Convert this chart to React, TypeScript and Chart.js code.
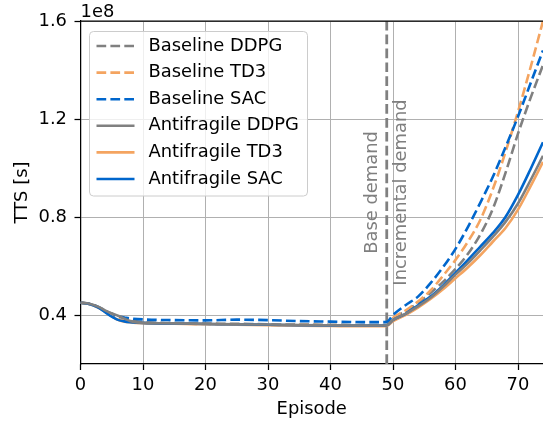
import React, { useEffect, useRef } from "react";
import { Chart, registerables } from "chart.js";

Chart.register(...registerables);

// ---- data (TTS in units of 1e8 s) ----
const episodes = [0, 1, 2, 3, 4, 5, 6, 7, 8, 10, 15, 20, 25, 30, 35, 40, 45, 48, 49, 50, 52, 54, 56, 58, 60, 62, 64, 66, 68, 70, 72, 74];

const baselineDDPG = [0.45, 0.448, 0.442, 0.431, 0.417, 0.405, 0.396, 0.388, 0.378, 0.371, 0.367, 0.365, 0.364, 0.362, 0.361, 0.36, 0.359, 0.359, 0.36, 0.385, 0.415, 0.45, 0.49, 0.535, 0.588, 0.65, 0.73, 0.835, 0.98, 1.14, 1.285, 1.42];
const baselineTD3 = [0.45, 0.447, 0.44, 0.429, 0.413, 0.398, 0.385, 0.376, 0.371, 0.368, 0.365, 0.363, 0.362, 0.36, 0.359, 0.358, 0.357, 0.357, 0.358, 0.388, 0.418, 0.455, 0.5, 0.56, 0.625, 0.7, 0.79, 0.915, 1.065, 1.23, 1.41, 1.6];
const baselineSAC = [0.45, 0.447, 0.441, 0.43, 0.415, 0.402, 0.394, 0.39, 0.386, 0.382, 0.379, 0.378, 0.381, 0.379, 0.375, 0.373, 0.371, 0.371, 0.372, 0.4, 0.44, 0.475, 0.53, 0.595, 0.67, 0.76, 0.86, 0.965, 1.085, 1.21, 1.345, 1.48];
const antifragileDDPG = [0.45, 0.448, 0.442, 0.432, 0.418, 0.407, 0.397, 0.385, 0.375, 0.368, 0.366, 0.364, 0.362, 0.361, 0.359, 0.358, 0.357, 0.357, 0.358, 0.38, 0.405, 0.435, 0.47, 0.515, 0.565, 0.612, 0.665, 0.72, 0.78, 0.855, 0.95, 1.05];
const antifragileTD3 = [0.45, 0.447, 0.44, 0.428, 0.412, 0.395, 0.38, 0.373, 0.37, 0.367, 0.364, 0.362, 0.36, 0.358, 0.356, 0.355, 0.354, 0.354, 0.355, 0.375, 0.4, 0.43, 0.465, 0.505, 0.55, 0.595, 0.645, 0.7, 0.755, 0.83, 0.925, 1.025];
const antifragileSAC = [0.45, 0.447, 0.44, 0.428, 0.41, 0.393, 0.38, 0.374, 0.371, 0.368, 0.365, 0.363, 0.362, 0.36, 0.358, 0.357, 0.357, 0.357, 0.358, 0.38, 0.405, 0.44, 0.475, 0.52, 0.572, 0.625, 0.68, 0.735, 0.8, 0.89, 0.995, 1.105];

const xTicks = [0, 10, 20, 30, 40, 50, 60, 70];
const yTicks = [0.4, 0.8, 1.2, 1.6];
const demandChangeEpisode = 49;
const yMultiplierLabel = "1e8";

const FONT = "'DejaVu Sans', sans-serif";
const FS = 17.9;
const GRAY = "#808080";
const ORANGE = "#f4a460";
const BLUE = "#0066cc";
const DASH = [9.7, 4.2];
const LW = 2.6;

const series = [
  { label: "Baseline DDPG", data: baselineDDPG, color: GRAY, dashed: true, order: 5 },
  { label: "Baseline TD3", data: baselineTD3, color: ORANGE, dashed: true, order: 4 },
  { label: "Baseline SAC", data: baselineSAC, color: BLUE, dashed: true, order: 3 },
  { label: "Antifragile DDPG", data: antifragileDDPG, color: GRAY, dashed: false, order: 0 },
  { label: "Antifragile TD3", data: antifragileTD3, color: ORANGE, dashed: false, order: 2 },
  { label: "Antifragile SAC", data: antifragileSAC, color: BLUE, dashed: false, order: 1 },
];

const decorPlugin = {
  id: "decor",
  beforeDatasetsDraw(chart: any) {
    const { ctx, chartArea: a, scales } = chart;
    const x = scales.x.getPixelForValue(demandChangeEpisode);
    const yc = scales.y.getPixelForValue(0.9);
    ctx.save();
    ctx.beginPath();
    ctx.rect(a.left, a.top, a.right - a.left, a.bottom - a.top);
    ctx.clip();
    ctx.strokeStyle = GRAY;
    ctx.lineWidth = 2.8;
    ctx.setLineDash(DASH);
    ctx.beginPath();
    ctx.moveTo(x, a.bottom);
    ctx.lineTo(x, a.top);
    ctx.stroke();
    ctx.setLineDash([]);
    ctx.fillStyle = "#7f7f7f";
    ctx.font = `${FS}px ${FONT}`;
    ctx.textAlign = "center";
    ctx.textBaseline = "middle";
    const drawV = (text: string, px: number) => {
      ctx.save();
      ctx.translate(px, yc);
      ctx.rotate(-Math.PI / 2);
      ctx.fillText(text, 0, 0);
      ctx.restore();
    };
    drawV("Base demand", x - 14.6);
    drawV("Incremental demand", x + 14.4);
    ctx.restore();
  },
  afterDraw(chart: any) {
    const { ctx, chartArea: a } = chart;
    ctx.save();
    // top spine
    ctx.strokeStyle = "#000";
    ctx.lineWidth = 1.25;
    ctx.beginPath();
    ctx.moveTo(a.left, a.top);
    ctx.lineTo(a.right, a.top);
    ctx.stroke();
    // multiplier text
    ctx.fillStyle = "#000";
    ctx.font = `${FS}px ${FONT}`;
    ctx.textAlign = "left";
    ctx.textBaseline = "alphabetic";
    ctx.fillText(yMultiplierLabel, a.left, 17);
    // legend
    const lx = a.left + 9, ly = a.top + 10.5, lw = 218, lh = 164.5, r = 4;
    ctx.beginPath();
    ctx.moveTo(lx + r, ly);
    ctx.lineTo(lx + lw - r, ly);
    ctx.quadraticCurveTo(lx + lw, ly, lx + lw, ly + r);
    ctx.lineTo(lx + lw, ly + lh - r);
    ctx.quadraticCurveTo(lx + lw, ly + lh, lx + lw - r, ly + lh);
    ctx.lineTo(lx + r, ly + lh);
    ctx.quadraticCurveTo(lx, ly + lh, lx, ly + lh - r);
    ctx.lineTo(lx, ly + r);
    ctx.quadraticCurveTo(lx, ly, lx + r, ly);
    ctx.closePath();
    ctx.fillStyle = "rgba(255,255,255,0.8)";
    ctx.fill();
    ctx.strokeStyle = "#cccccc";
    ctx.lineWidth = 1;
    ctx.stroke();
    ctx.textBaseline = "middle";
    series.forEach((s, i) => {
      const cy = ly + 14.5 + i * 26.6;
      ctx.strokeStyle = s.color;
      ctx.lineWidth = LW;
      ctx.setLineDash(s.dashed ? DASH : []);
      ctx.beginPath();
      ctx.moveTo(lx + 7, cy);
      ctx.lineTo(lx + 45, cy);
      ctx.stroke();
      ctx.setLineDash([]);
      ctx.fillStyle = "#000";
      ctx.fillText(s.label, lx + 59, cy);
    });
    ctx.restore();
  },
};

export default function App() {
  const canvasRef = useRef<HTMLCanvasElement | null>(null);

  useEffect(() => {
    const canvas = canvasRef.current;
    if (!canvas) return;
    const font = { family: FONT, size: FS };
    const chart = new Chart(canvas, {
      type: "line",
      data: {
        datasets: series.map((s) => ({
          label: s.label,
          data: episodes.map((e, i) => ({ x: e, y: s.data[i] })),
          borderColor: s.color,
          backgroundColor: s.color,
          borderWidth: LW,
          borderDash: s.dashed ? DASH : [],
          pointRadius: 0,
          fill: false,
          cubicInterpolationMode: "monotone" as const,
          order: s.order,
        })),
      },
      options: {
        responsive: false,
        animation: false,
        layout: { padding: { top: 21, right: 0, left: 0, bottom: 0 } },
        plugins: { legend: { display: false }, tooltip: { enabled: false } },
        scales: {
          x: {
            type: "linear",
            min: 0,
            max: 74,
            afterBuildTicks: (s: any) => {
              s.ticks = xTicks.map((v) => ({ value: v }));
            },
            afterFit: (s: any) => {
              s.height = 60;
            },
            ticks: { font, color: "#000", padding: 4.5, maxRotation: 0, autoSkip: false, callback: (v: any) => String(v) },
            grid: { color: "#b0b0b0", lineWidth: 1, tickColor: "#000", tickLength: 6, tickWidth: 1.25 },
            border: { color: "#000", width: 1.25 },
            title: { display: true, text: "Episode", font, color: "#000", padding: { top: 0, bottom: 3.5 } },
          },
          y: {
            type: "linear",
            min: 0.2,
            max: 1.6,
            afterBuildTicks: (s: any) => {
              s.ticks = yTicks.map((v) => ({ value: v }));
            },
            afterFit: (s: any) => {
              s.width = 80.5;
            },
            ticks: { font, color: "#000", padding: 7.5, autoSkip: false, callback: (v: any) => Number(v).toFixed(1) },
            grid: { color: "#b0b0b0", lineWidth: 1, tickColor: "#000", tickLength: 6, tickWidth: 1.25 },
            border: { color: "#000", width: 1.25 },
            title: { display: true, text: "TTS [s]", font, color: "#000", padding: { top: 12, bottom: 0 } },
          },
        },
      },
      plugins: [decorPlugin],
    } as any);
    return () => chart.destroy();
  }, []);

  return (
    <div style={{ position: "absolute", left: 0, top: 0, width: 543, height: 424, background: "#fff" }}>
      <canvas ref={canvasRef} width={543} height={424} style={{ display: "block" }} />
    </div>
  );
}
